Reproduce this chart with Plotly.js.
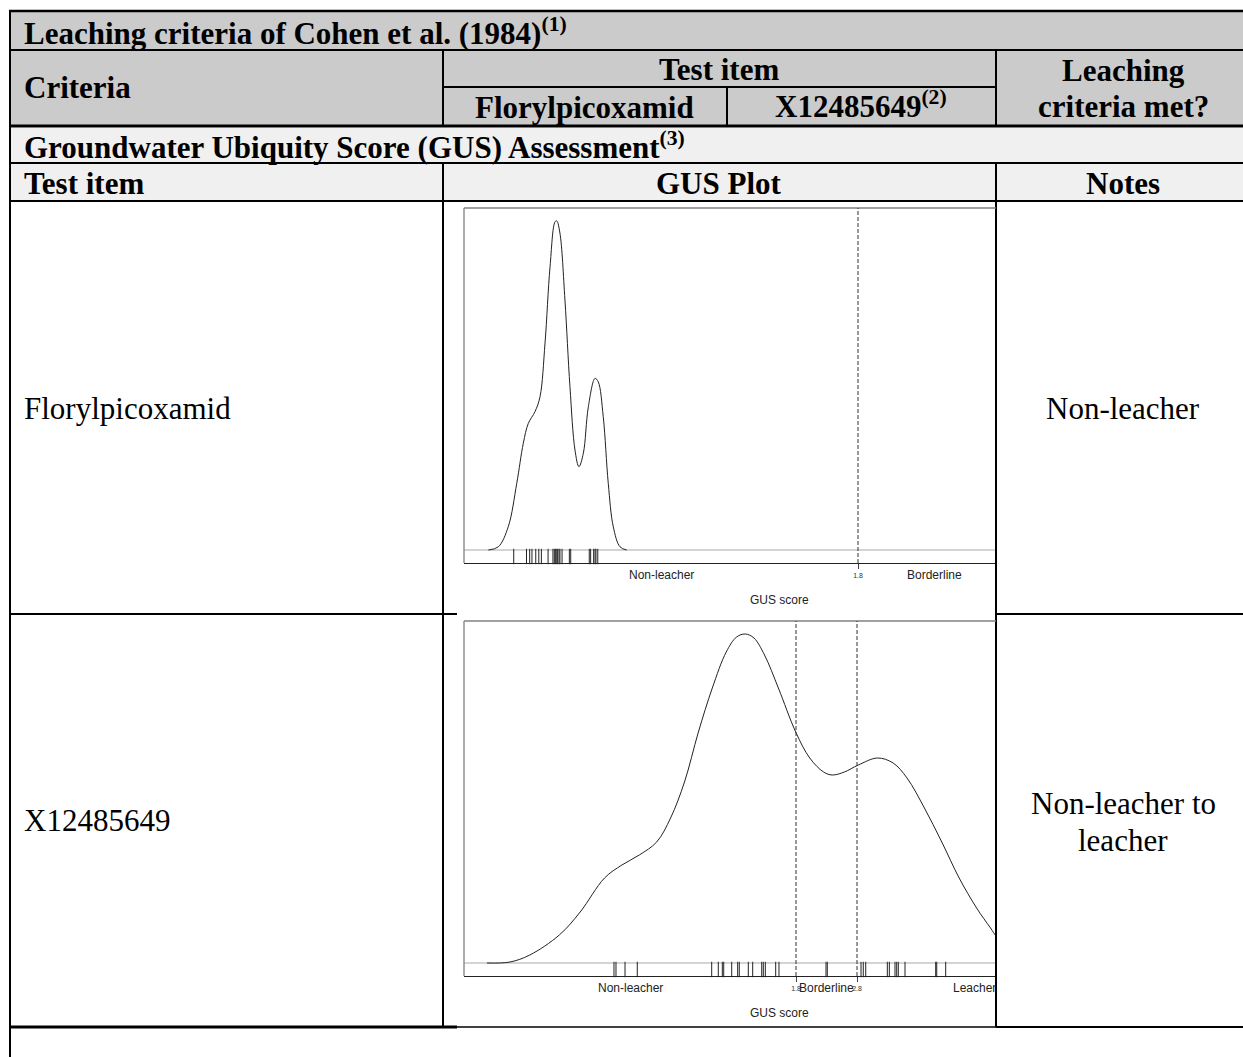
<!DOCTYPE html>
<html><head><meta charset="utf-8">
<script src="https://cdn.plot.ly/plotly-3.0.1.min.js"></script>
<style>html,body{margin:0;padding:0;background:#fff}#c{width:1243px;height:1057px}</style>
</head><body><div id="c"></div>
<script>
// ---- Data ----
// Florylpicoxamid GUS density curve
const gus1X = [-0.632,-0.566,-0.501,-0.445,-0.402,-0.369,-0.325,-0.292,-0.259,-0.226,-0.193,-0.182,-0.161,-0.128,-0.095,-0.062,-0.036,-0.007,0.026,0.070,0.091,0.124,0.157,0.190,0.234,0.278];
const gus1Y = [0.000,0.025,0.179,0.513,0.821,0.974,1.064,1.179,1.592,2.179,2.525,2.531,2.438,1.923,1.256,0.769,0.641,0.744,1.102,1.320,1.294,1.025,0.513,0.179,0.025,0.000];
// Florylpicoxamid individual GUS values (rug)
const rug1 = [-0.465,-0.381,-0.360,-0.345,-0.320,-0.300,-0.283,-0.239,-0.207,-0.198,-0.191,-0.182,-0.176,-0.167,-0.161,-0.147,-0.099,-0.090,0.032,0.041,0.061,0.070,0.076,0.088];
// X12485649 GUS density curve
const gus2X = [-3.266,-2.889,-2.564,-2.080,-1.738,-1.339,-1.054,-0.769,-0.484,-0.256,-0.028,0.200,0.428,0.656,0.826,0.969,1.111,1.284,1.511,1.795,2.025,2.252,2.395,2.593,2.821,3.136,3.392,3.620,3.905,4.190,4.475,4.761,4.989,5.095,5.400,5.800,6.200];
const gus2Y = [0.000,0.001,0.008,0.028,0.051,0.085,0.098,0.108,0.121,0.145,0.181,0.231,0.275,0.311,0.326,0.329,0.325,0.308,0.275,0.231,0.205,0.191,0.188,0.191,0.198,0.205,0.200,0.185,0.155,0.121,0.085,0.055,0.035,0.026,0.012,0.003,0.000];
// X12485649 individual GUS values (rug)
const rug2 = [-1.184,-1.151,-1.003,-0.802,0.418,0.526,0.592,0.615,0.746,0.844,0.870,1.018,1.090,1.238,1.264,1.297,1.467,1.521,2.292,2.313,2.866,2.903,2.943,3.297,3.330,3.423,3.451,3.477,3.587,4.090,4.107,4.254];
const thresholds = [1.8, 2.8];
const thresholdLabels = ['1.8', '2.8'];
const zoneLabels = ['Non-leacher', 'Borderline', 'Leacher'];
const testItems = ['Florylpicoxamid', 'X12485649'];
const notes = ['Non-leacher', 'Non-leacher to leacher'];

// ---- Layout helpers (page pixels -> paper) ----
const W = 1243, H = 1057;
const X = p => p / W;
const Y = p => 1 - p / H;
const serif = 'Liberation Serif, Times New Roman, serif';
const sans = 'Liberation Sans, Arial, sans-serif';

const shapes = [];
const ann = [];
function rect(x0, y0, x1, y1, color) {
  shapes.push({type:'rect', xref:'paper', yref:'paper', x0:X(x0), x1:X(x1), y0:Y(y1), y1:Y(y0),
    fillcolor: color, line:{width:0}, layer:'below'});
}
function hl(y, x0, x1, w, c) {
  shapes.push({type:'line', xref:'paper', yref:'paper', x0:X(x0), x1:X(x1), y0:Y(y), y1:Y(y),
    line:{color:c||'#000', width:w||2}, layer:'above'});
}
function vl(x, y0, y1, w, c) {
  shapes.push({type:'line', xref:'paper', yref:'paper', x0:X(x), x1:X(x), y0:Y(y0), y1:Y(y1),
    line:{color:c||'#000', width:w||2}, layer:'above'});
}
function txt(s, x, y, opt) {
  opt = opt || {};
  ann.push({text:s, xref:'paper', yref:'paper', x:X(x), y:Y(y), showarrow:false,
    xanchor: opt.xa || 'left', yanchor:'middle',
    font:{family: opt.family || serif, size: opt.size || 31, color: opt.color || '#000'}});
}

// Backgrounds
rect(10, 11, 1243, 126, '#cbcbcb');
rect(10, 128, 1243, 201, '#f0f0f0');

// Table grid
hl(11, 9, 1243, 2.5);
hl(50, 10, 1243, 2);
hl(87, 443, 996, 2);
hl(126, 10, 1243, 3);
hl(163, 10, 1243, 2);
hl(201, 10, 1243, 2);
hl(614, 10, 457, 2);
hl(614, 996, 1243, 2);
hl(1027, 10, 457, 3);
hl(1027, 457, 996, 1.5);
hl(1027, 996, 1243, 2);
vl(10, 10, 1057, 2);
vl(443, 50, 126, 2);
vl(727, 87, 126, 2);
vl(996, 50, 126, 2);
vl(443, 163, 1027, 2);
vl(996, 163, 1027, 2);

// Header texts
txt('<b>Leaching criteria of Cohen et al. (1984)<sup>(1)</sup></b>', 22, 31);
txt('<b>Criteria</b>', 22, 88);
txt('<b>Test item</b>', 719, 69, {xa:'center'});
txt('<b>' + testItems[0] + '</b>', 584, 107, {xa:'center'});
txt('<b>' + testItems[1] + '<sup>(2)</sup></b>', 861, 105, {xa:'center'});
txt('<b>Leaching</b>', 1123, 70, {xa:'center'});
txt('<b>criteria met?</b>', 1123, 106, {xa:'center'});
txt('<b>Groundwater Ubiquity Score (GUS) Assessment<sup>(3)</sup></b>', 22, 145);
txt('<b>Test item</b>', 22, 184);
txt('<b>GUS Plot</b>', 719, 184, {xa:'center'});
txt('<b>Notes</b>', 1123, 184, {xa:'center'});
// Body texts
txt(testItems[0], 22, 408);
txt(notes[0], 1123, 408, {xa:'center'});
txt(testItems[1], 22, 820);
txt('Non-leacher to', 1123, 803, {xa:'center'});
txt('leacher', 1123, 840, {xa:'center'});

// ---- Plot geometry ----
// Plot 1: left 464, right 996, top 208, axis line 563; 1.8 at px 858, 152 px/unit; baseline 550, 130 px/unit
const p1 = {l:464, r:996, t:208, b:563};
const x1range = [1.8 + (p1.l - 858) / 152, 1.8 + (p1.r - 858) / 152];
const y1range = [(550 - p1.b) / 130, (550 - p1.t) / 130];
// Plot 2: left 464, right 996, top 621, axis line 976; 1.8 at px 796, 61 px/unit; baseline 963, 1000 px/unit
const p2 = {l:464, r:996, t:621, b:976};
const x2range = [1.8 + (p2.l - 796) / 61, 1.8 + (p2.r - 796) / 61];
const y2range = [(963 - p2.b) / 1000, (963 - p2.t) / 1000];

// plot frames (grey left + top)
vl(p1.l, p1.t, p1.b, 1.3, '#808080');
hl(p1.t, p1.l, p1.r, 1.3, '#808080');
vl(p2.l, p2.t, p2.b, 1.3, '#808080');
hl(p2.t, p2.l, p2.r, 1.3, '#808080');

// threshold dashed lines
shapes.push({type:'line', xref:'x', yref:'y domain', x0:thresholds[0], x1:thresholds[0], y0:0, y1:1,
  line:{color:'#333', width:1, dash:'4px,2px'}, layer:'above'});
thresholds.forEach(t => shapes.push({type:'line', xref:'x2', yref:'y2 domain', x0:t, x1:t, y0:0, y1:1,
  line:{color:'#333', width:1, dash:'4px,2px'}, layer:'above'}));

// zone labels & axis titles
const lab = {family: sans, size: 12, color: '#222'};
function labAnn(text, xref, x, y, xa) {
  ann.push({text:text, xref:xref, yref:'paper', x:x, y:Y(y), showarrow:false,
    xanchor: xa || 'center', yanchor:'middle', font:lab});
}
labAnn(zoneLabels[0], 'x', (x1range[0] + thresholds[0]) / 2, 575);
labAnn(zoneLabels[1], 'x', (thresholds[0] + thresholds[1]) / 2, 575);
labAnn('GUS score', 'paper', X(779), 600);
labAnn(zoneLabels[0], 'x2', (x2range[0] + thresholds[0]) / 2, 988);
labAnn(zoneLabels[1], 'x2', (thresholds[0] + thresholds[1]) / 2, 988);
labAnn(zoneLabels[2], 'paper', X(998), 988, 'right');
labAnn('GUS score', 'paper', X(779), 1013);

const rugMarker = {symbol:'line-ns-open', size:11, color:'#222', line:{color:'#222', width:1}};
const traces = [
  {x: gus1X, y: gus1Y, xaxis:'x', yaxis:'y', type:'scatter', mode:'lines',
   line:{color:'#222', width:1, shape:'spline', smoothing:1}, hoverinfo:'skip'},
  {x: rug1, y: rug1.map(() => -0.05), xaxis:'x', yaxis:'y', type:'scatter', mode:'markers',
   marker: rugMarker, hoverinfo:'skip', cliponaxis:false},
  {x: gus2X, y: gus2Y, xaxis:'x2', yaxis:'y2', type:'scatter', mode:'lines',
   line:{color:'#222', width:1, shape:'spline', smoothing:1}, hoverinfo:'skip'},
  {x: rug2, y: rug2.map(() => -0.0065), xaxis:'x2', yaxis:'y2', type:'scatter', mode:'markers',
   marker: rugMarker, hoverinfo:'skip', cliponaxis:false}
];

const axX = (dom, range, tv, tt) => ({domain: dom, range: range, showgrid:false, zeroline:false,
  showline:true, linecolor:'#222', linewidth:1.3, ticks:'outside', ticklen:5, tickcolor:'#444', tickwidth:1,
  tickvals: tv, ticktext: tt, tickfont:{family:sans, size:7, color:'#333'}, fixedrange:true});
const axY = (dom, range) => ({domain: dom, range: range, showgrid:false, showticklabels:false, ticks:'',
  zeroline:true, zerolinecolor:'#d4d4d4', zerolinewidth:1.5, showline:false, fixedrange:true});

const layout = {
  width: W, height: H, margin:{l:0, r:0, t:0, b:0},
  paper_bgcolor:'#fff', plot_bgcolor:'rgba(0,0,0,0)', showlegend:false,
  xaxis: Object.assign(axX([X(p1.l), X(p1.r)], x1range, [thresholds[0]], [thresholdLabels[0]]), {anchor:'y'}),
  yaxis: Object.assign(axY([Y(p1.b), Y(p1.t)], y1range), {anchor:'x'}),
  xaxis2: Object.assign(axX([X(p2.l), X(p2.r)], x2range, thresholds, thresholdLabels), {anchor:'y2'}),
  yaxis2: Object.assign(axY([Y(p2.b), Y(p2.t)], y2range), {anchor:'x2'}),
  shapes: shapes, annotations: ann
};
Plotly.newPlot('c', traces, layout, {staticPlot:true, displayModeBar:false});
</script>
</body></html>
